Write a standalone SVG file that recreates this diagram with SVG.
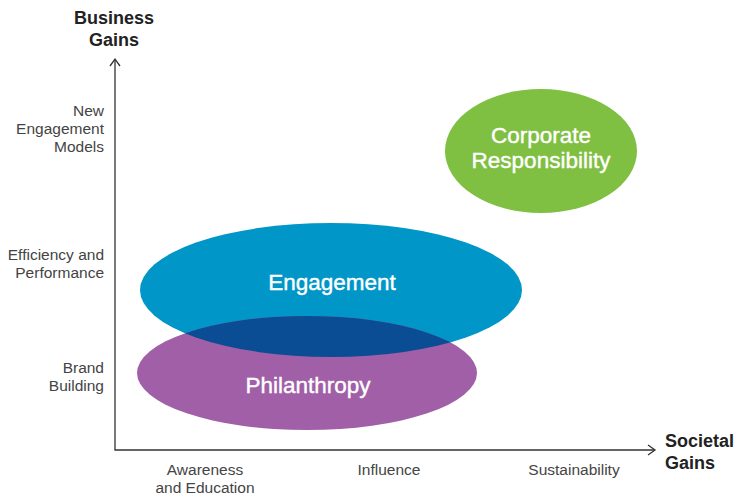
<svg xmlns="http://www.w3.org/2000/svg" width="737" height="498" viewBox="0 0 737 498">
<style>
.ax{fill:none;stroke:#333;stroke-width:1.3}
.lab{font-family:"Liberation Sans",Arial,sans-serif;font-size:15.5px;fill:#444}
.title{font-family:"Liberation Sans",Arial,sans-serif;font-size:18px;font-weight:bold;fill:#222}
.node{font-family:"Liberation Sans",Arial,sans-serif;font-size:22.5px;fill:#fff;stroke:#fff;stroke-width:0.4;text-anchor:middle}
</style>
<defs>
<clipPath id="engClip"><ellipse cx="331" cy="290" rx="191" ry="67"/></clipPath>
</defs>
<rect width="737" height="498" fill="#fff"/>
<g id="connectors">
<path class="ax" d="M115,60 V450 H655"/>
<path class="ax" d="M110,66 L115,59 L120,66"/>
<path class="ax" d="M648,445 L655,450 L648,455"/>
</g>
<g id="engagement">
<ellipse cx="331" cy="290" rx="191" ry="67" fill="#0096c8"/>
</g>
<g id="philanthropy">
<ellipse cx="307" cy="373" rx="170" ry="57" fill="#a05fa6"/>
<ellipse cx="307" cy="373" rx="170" ry="57" fill="#0a4d94" clip-path="url(#engClip)"/>
<text class="node" x="308" y="393">Philanthropy</text>
</g>
<g id="engagement-label">
<text class="node" x="332" y="290">Engagement</text>
</g>
<g id="corporate-responsibility">
<ellipse cx="541" cy="151" rx="96" ry="62" fill="#7fbf41"/>
<text class="node" x="541" y="143">Corporate</text>
<text class="node" x="541" y="168">Responsibility</text>
</g>
<g id="axis-labels">
<text class="title" x="114" y="24" text-anchor="middle">Business</text>
<text class="title" x="114" y="46" text-anchor="middle">Gains</text>
<text class="title" x="665" y="447">Societal</text>
<text class="title" x="665" y="469">Gains</text>
<text class="lab" x="104" y="116" text-anchor="end">New</text>
<text class="lab" x="104" y="134" text-anchor="end">Engagement</text>
<text class="lab" x="104" y="152" text-anchor="end">Models</text>
<text class="lab" x="104" y="260" text-anchor="end">Efficiency and</text>
<text class="lab" x="104" y="278" text-anchor="end">Performance</text>
<text class="lab" x="104" y="373" text-anchor="end">Brand</text>
<text class="lab" x="104" y="391" text-anchor="end">Building</text>
<text class="lab" x="205" y="475" text-anchor="middle">Awareness</text>
<text class="lab" x="205" y="493" text-anchor="middle">and Education</text>
<text class="lab" x="389" y="475" text-anchor="middle">Influence</text>
<text class="lab" x="574" y="475" text-anchor="middle">Sustainability</text>
</g>
</svg>
